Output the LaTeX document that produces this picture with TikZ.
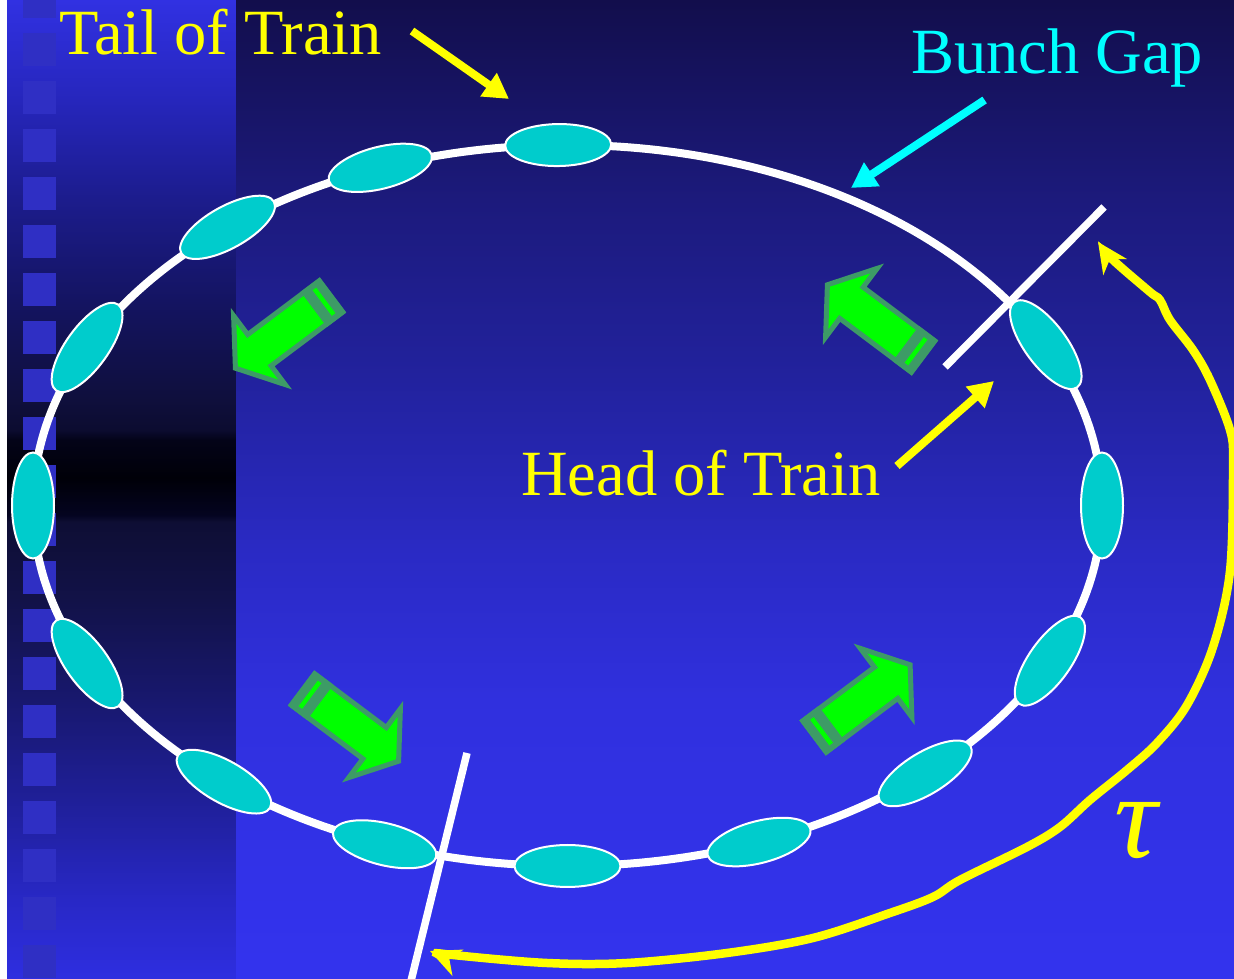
\documentclass[tikz,border=0pt]{standalone}
\usepackage{fontspec}
\setmainfont{Liberation Serif}
\usetikzlibrary{arrows.meta,shapes.geometric,calc}
\definecolor{bunchcyan}{HTML}{00CCCC}
\definecolor{labelcyan}{HTML}{00FFFF}
\definecolor{labelyellow}{HTML}{FFFF00}
\definecolor{arrowdark}{HTML}{3D9B66}
\definecolor{arrowlime}{HTML}{00FF00}
\definecolor{sqblue}{HTML}{2F2FC4}
% left panel colours (by image row)
\definecolor{L0}{HTML}{3131E2}
\definecolor{L100}{HTML}{2626BC}
\definecolor{L200}{HTML}{1C1C8C}
\definecolor{L300}{HTML}{141462}
\definecolor{L400}{HTML}{0F0F3C}
\definecolor{L430}{HTML}{0C0C30}
\definecolor{L440}{HTML}{030318}
\definecolor{L478}{HTML}{000008}
\definecolor{L515}{HTML}{040420}
\definecolor{L522}{HTML}{0E0E34}
\definecolor{L600}{HTML}{121248}
\definecolor{L700}{HTML}{18186E}
\definecolor{L800}{HTML}{1F1F98}
\definecolor{L900}{HTML}{2828C6}
\definecolor{L979}{HTML}{2E2EE0}
% main panel colours
\definecolor{M0}{HTML}{120E4C}
\definecolor{M200}{HTML}{1C1A7C}
\definecolor{M380}{HTML}{22229E}
\definecolor{M550}{HTML}{2A2AC4}
\definecolor{M700}{HTML}{3030DE}
\definecolor{M979}{HTML}{3333EE}
\pgfdeclareverticalshading{leftbg}{229pt}{color(0pt)=(L979); color(79pt)=(L900); color(179pt)=(L800); color(279pt)=(L700); color(379pt)=(L600); color(457pt)=(L522); color(464pt)=(L515); color(501pt)=(L478); color(539pt)=(L440); color(549pt)=(L430); color(579pt)=(L400); color(679pt)=(L300); color(779pt)=(L200); color(879pt)=(L100); color(979pt)=(L0)}
\pgfdeclareverticalshading{mainbg}{998pt}{color(0pt)=(M979); color(279pt)=(M700); color(429pt)=(M550); color(599pt)=(M380); color(779pt)=(M200); color(979pt)=(M0)}
\tikzset{
  panel/.style={inner sep=0pt, outer sep=0pt, anchor=south west},
  ringline/.style={draw=white, line width=8pt},
  gapline/.style={draw=white, line width=7.5pt},
  bunch/.style={ellipse, fill=bunchcyan, draw=white, line width=2pt, inner sep=0pt, minimum width=106pt, minimum height=42pt},
  pointer/.style={line width=8pt, -{Triangle[length=25pt, width=27pt]}},
  taucurve/.style={draw=labelyellow, line width=8.5pt, {Stealth[length=30pt, width=28pt, inset=9pt]}-{Stealth[length=30pt, width=28pt, inset=9pt]}},
  labeltext/.style={inner sep=0pt, anchor=base west, font=\fontsize{64.5}{70}\selectfont},
}
\newcommand\grnarrow[3]{%
  \begin{scope}[shift={(#1,#2)}, rotate=#3]
    \filldraw[fill=arrowlime, draw=arrowdark, line width=5pt, line join=miter]
      (2.5,19.5) -- (92,19.5) -- (92,43) -- (122,0) -- (92,-43) -- (92,-19.5) -- (2.5,-19.5) -- cycle;
    \fill[arrowdark] (0,-22) rectangle (24,22);
    \fill[arrowlime] (9,-16) rectangle (13.5,16);
  \end{scope}}
\begin{document}
\begin{tikzpicture}[x=1pt, y=1pt]
\useasboundingbox (0,0) rectangle (1234,979);
\clip (0,0) rectangle (1234,979);
\fill[white] (0,0) rectangle (1234,979);
\node[panel] (leftpanel) at (7,0) {\pgfuseshading{leftbg}};
\node[panel] (mainpanel) at (236,0) {\pgfuseshading{mainbg}};
% squares on the left strip
\foreach \k in {-1,...,19} {
  \fill[sqblue] (23,{979-33-48*\k-33}) rectangle (56,{979-33-48*\k});
}
% ring
\coordinate (ringc) at (567.5,473.5);
\draw[ringline] (ringc) ellipse [x radius=534.5pt, y radius=360.5pt];
% gap markers
\coordinate (gapTa) at (945,612);
\coordinate (gapTb) at (1104,772);
\coordinate (gapBa) at (467,226);
\coordinate (gapBb) at (410.5,-4);
\draw[gapline] (gapTa) -- (gapTb);
\draw[gapline] (gapBa) -- (gapBb);
% bunches
\foreach \t [count=\i] in {91,110.5,129.5,154,180,206,230,250,270,291,312,334.5,360,26.5} {
  \pgfmathsetmacro\rot{atan2(360.5*cos(\t), -534.5*sin(\t))}
  \node[bunch, rotate=\rot] (b\i) at ($(ringc)+(\t:534.5pt and 360.5pt)$) {};
}
% green motion arrows
\grnarrow{333}{684}{216.87}
\grnarrow{925}{621}{143.13}
\grnarrow{301}{291}{-36.87}
\grnarrow{812.5}{241}{36.87}
% labels
\node[labeltext, text=labelyellow] (tailtxt) at (59,924) {Tail of Train};
\node[labeltext, text=labelcyan] (gaptxt) at (911,905) {Bunch Gap};
\node[labeltext, text=labelyellow] (headtxt) at (521,483) {Head of Train};
\node[inner sep=0pt, text=labelyellow, font=\fontsize{120}{126}\selectfont\itshape] (tau) at (1136,148) {τ};
% pointers
\coordinate (tailA) at (412,948);
\coordinate (tailB) at (509,880);
\coordinate (gapA) at (984.6,879);
\coordinate (gapB) at (851,791);
\coordinate (headA) at (897,513);
\coordinate (headB) at (994,598);
\draw[pointer, draw=labelyellow, fill=labelyellow] (tailA) -- (tailB);
\draw[pointer, draw=labelcyan, fill=labelcyan] (gapA) -- (gapB);
\draw[pointer, draw=labelyellow, fill=labelyellow] (headA) -- (headB);
% revolution period curve
\draw[taucurve] plot[smooth, tension=0.55] coordinates {
  (1098,737) (1113,719) (1150,687) (1160,679) (1170,659) (1193,629) (1210,599)
  (1230,549) (1233,515) (1230,408) (1213,332) (1187,274) (1157,236) (1127,209)
  (1090,179) (1060,152) (1027,132) (960,99) (933,82) (890,66) (813,41) (727,26)
  (627,16) (547,16) (453,24) (430,28)};
\end{tikzpicture}
\end{document}
